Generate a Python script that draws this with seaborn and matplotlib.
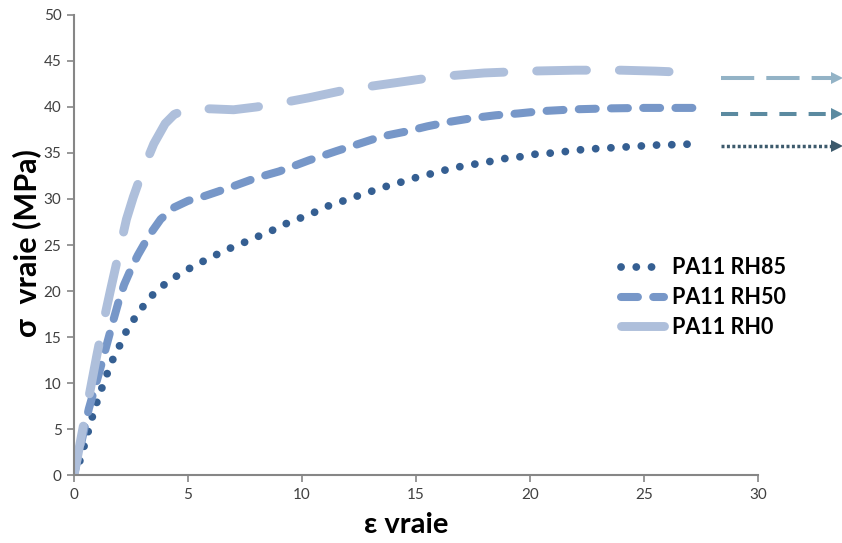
import matplotlib
matplotlib.use("Agg")
import matplotlib.pyplot as plt
import seaborn as sns
import pandas as pd

# ---- data ----
strain_rh85 = [0, 0.3, 0.48, 0.7, 0.89, 1.14, 1.39, 1.65, 1.97, 2.3, 2.7, 3.14, 3.6, 4.17, 4.8,
               5.4, 6.04, 6.7, 7.3, 7.94, 8.55, 9.18, 9.8, 10.5, 11.1, 11.7, 12.4, 13.0, 13.6,
               14.3, 14.96, 15.6, 16.2, 16.9, 17.6, 18.3, 18.9, 19.6, 20.3, 21.0, 21.7, 22.4,
               23.1, 23.8, 24.5, 25.1, 25.85, 26.5, 27.2]
stress_rh85 = [0, 1.8, 3.5, 5.4, 7.1, 8.9, 10.6, 12.3, 13.9, 15.65, 17.2, 18.7, 20.0, 21.1, 22.1,
               22.9, 23.7, 24.5, 25.1, 25.8, 26.4, 27.2, 27.8, 28.5, 29.2, 29.7, 30.3, 30.8, 31.3,
               31.8, 32.3, 32.7, 33.1, 33.5, 33.8, 34.1, 34.4, 34.6, 34.9, 35.0, 35.2, 35.4,
               35.5, 35.6, 35.7, 35.8, 35.9, 35.9, 36.0]

strain_rh50 = [0, 0.3, 0.65, 0.95, 1.2, 1.45, 1.7, 1.95, 2.2, 2.5, 2.8, 3.1, 3.4, 3.8, 4.4,
               5.0, 5.7, 6.3, 7.0, 8.0, 9.0, 10.3, 11.5, 12.5, 13.5, 14.5, 15.5, 16.5, 17.5,
               18.5, 19.5, 20.5, 22.0, 23.5, 25.0, 26.3, 27.3]
stress_rh50 = [0, 3.3, 7.2, 9.8, 12.0, 14.3, 16.6, 18.8, 20.7, 22.4, 23.9, 25.2, 26.4, 27.8, 29.1,
               29.8, 30.3, 30.8, 31.4, 32.3, 33.0, 34.2, 35.2, 36.0, 36.8, 37.3, 37.9, 38.4, 38.8,
               39.1, 39.3, 39.55, 39.75, 39.85, 39.9, 39.9, 39.9]

strain_rh0 = [0, 0.5, 1.0, 1.3, 1.6, 2.0, 2.3, 2.6, 3.0, 3.5, 4.0, 4.4, 5.0, 6.0, 7.0, 8.0,
              9.0, 10.3, 12.0, 14.0, 16.0, 18.0, 20.0, 22.0, 24.0, 25.5, 26.5, 27.2, 27.15]
stress_rh0 = [0, 6.5, 13.0, 16.7, 20.1, 24.5, 27.8, 30.2, 33.0, 36.0, 38.2, 39.2, 39.8, 39.8,
              39.7, 40.0, 40.4, 41.0, 41.9, 42.6, 43.3, 43.7, 43.9, 44.0, 44.0, 43.9, 43.8, 43.6, 43.2]

series_labels = ["PA11 RH85", "PA11 RH50", "PA11 RH0"]
arrow_levels = [43.15, 39.2, 35.75]
arrow_start = 28.4
arrow_end = 33.35

x_ticks = [0, 5, 10, 15, 20, 25, 30]
y_ticks = [0, 5, 10, 15, 20, 25, 30, 35, 40, 45, 50]
x_label = "ε vraie"
y_label = "σ  vraie (MPa)"

# ---- styling ----
sns.set_style("white")
plt.rcParams["font.family"] = ["Lato", "DejaVu Sans"]

fig = plt.figure(figsize=(8.42, 5.43), dpi=100)
ax = fig.add_axes([0.0879, 0.1252, 0.8123, 0.8472])

colors = ["#355F92", "#7797C8", "#AEBFDB"]
widths = [5.6, 5.8, 6.4]
dashes = [(0.01, 1.95), (2.1, 1.9), (5.6, 3.7)]
caps = ["round", "round", "round"]

datasets = [(strain_rh85, stress_rh85), (strain_rh50, stress_rh50), (strain_rh0, stress_rh0)]
for (xs, ys), lab, c, w, d, cap in zip(datasets, series_labels, colors, widths, dashes, caps):
    df = pd.DataFrame({"strain": xs, "stress": ys})
    sns.lineplot(data=df, x="strain", y="stress", ax=ax, sort=False, estimator=None,
                 color=c, linewidth=w, label=lab, dashes=False,
                 linestyle=(0, d), dash_capstyle=cap, solid_capstyle=cap)

# arrows beyond the plot area
arrow_colors = ["#93B3C6", "#5B8AA0", "#3D5A6C"]
arrow_dash = [(8.25, 3.0), (4.25, 3.0), (0.86, 0.7)]
arrow_lw = [2.9, 2.9, 2.5]
for lvl, c, d, lw in zip(arrow_levels, arrow_colors, arrow_dash, arrow_lw):
    sns.lineplot(x=[arrow_start, arrow_end], y=[lvl, lvl], ax=ax, color=c, linewidth=lw,
                 linestyle=(0, d), dash_capstyle="butt", clip_on=False, legend=False)
    ax.plot([arrow_end + 0.12], [lvl], marker=">", markersize=9, color=c,
            markeredgewidth=0, clip_on=False, linestyle="none")

ax.set_xlim(0, 30)
ax.set_ylim(0, 50)
ax.set_xticks(x_ticks)
ax.set_yticks(y_ticks)
ax.tick_params(axis="both", which="both", direction="out", length=5, width=1.2,
               color="#868686", labelsize=11, labelcolor="#404040", pad=4, bottom=True, left=True)
for s in ["top", "right"]:
    ax.spines[s].set_visible(False)
for s in ["left", "bottom"]:
    ax.spines[s].set_color("#868686")
    ax.spines[s].set_linewidth(1.5)

ax.set_xlabel(x_label, fontsize=21, fontweight="bold", color="black")
ax.xaxis.set_label_coords(0.485, -0.08)
ax.set_ylabel(y_label, fontsize=22, fontweight="bold", color="black")
ax.yaxis.set_label_coords(-0.048, 0.505)

leg = ax.legend(loc="upper left", bbox_to_anchor=(0.772, 0.515), frameon=False,
                handlelength=2.0, handletextpad=0.35, labelspacing=0.4,
                prop={"weight": "bold", "size": 15.5})
for t in leg.get_texts():
    t.set_color("black")

fig.savefig("out.png", dpi=100, facecolor="white")
